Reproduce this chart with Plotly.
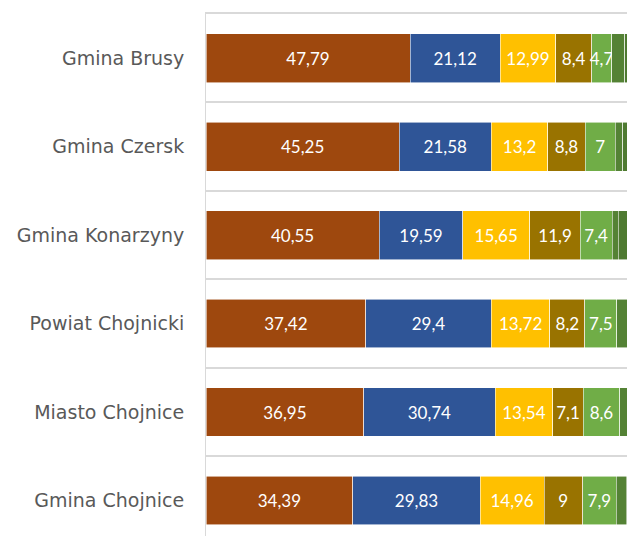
import plotly.graph_objects as go

categories = ["Gmina Brusy", "Gmina Czersk", "Gmina Konarzyny",
              "Powiat Chojnicki", "Miasto Chojnice", "Gmina Chojnice"]

s1 = [47.79, 45.25, 40.55, 37.42, 36.95, 34.39]
s2 = [21.12, 21.58, 19.59, 29.4, 30.74, 29.83]
s3 = [12.99, 13.2, 15.65, 13.72, 13.54, 14.96]
s4 = [8.4, 8.8, 11.9, 8.2, 7.1, 9]
s5 = [4.7, 7, 7.4, 7.5, 8.6, 7.9]
s6 = [3.1, 1.8, 1.5, 2.5, 2.0, 2.4]
s7 = [1.9, 2.37, 3.41, 1.26, 1.07, 1.52]

series = [s1, s2, s3, s4, s5, s6, s7]
colors = ["#9E480E", "#2F5597", "#FFC000", "#997300", "#70AD47", "#548235", "#4E7A31"]
show_labels = [True, True, True, True, True, False, False]


def fmt(v):
    return f"{v:g}".replace(".", ",")


fig = go.Figure()
for vals, col, lab in zip(series, colors, show_labels):
    fig.add_trace(go.Bar(
        y=categories, x=vals, orientation="h",
        marker=dict(color=col, line=dict(color="rgba(255,255,255,0.7)", width=0.8)),
        text=[fmt(v) for v in vals] if lab else None,
        textposition="inside" if lab else "none",
        insidetextanchor="middle",
        textangle=0,
        textfont=dict(family="Lato", size=17, color="white"),
        hoverinfo="skip",
    ))

fig.update_layout(
    barmode="stack",
    width=627, height=536,
    margin=dict(l=206, r=0, t=14, b=0),
    plot_bgcolor="white", paper_bgcolor="white",
    showlegend=False,
    bargap=0.45,
    uniformtext=dict(minsize=17, mode="show"),
)
fig.update_xaxes(range=[0, 98.6], showgrid=False, zeroline=False, side="top",
                 showticklabels=False, showline=True, linecolor="#D9D9D9",
                 linewidth=1.5, ticks="")
fig.update_yaxes(
    type="category", categoryorder="array", categoryarray=categories,
    range=[5.4, -0.5],
    tickson="boundaries", ticks="", showgrid=True, gridcolor="#D9D9D9", gridwidth=1.5,
    showline=True, linecolor="#D9D9D9", linewidth=1,
    tickfont=dict(family="DejaVu Sans", size=19, color="#595959"),
    ticklabelstandoff=17,
)

fig.write_html(
    "out.html",
    config={"displayModeBar": False},
    post_script="document.body.style.margin='0';document.body.style.overflow='hidden';",
)
